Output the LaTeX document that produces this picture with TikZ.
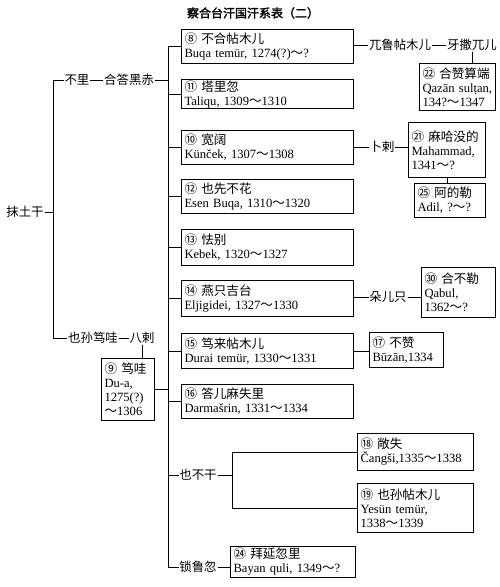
\documentclass[tikz,border=0pt]{standalone}
\usepackage{fontspec}
\setmainfont{Liberation Serif}
\newfontfamily\cjk{Noto Sans CJK SC}[AutoFakeBold=2]
\newcommand\wave{{\cjk ～}}
\usetikzlibrary{calc}

\begin{document}
\begin{tikzpicture}[
  x=1pt,y=-1pt,
  line width=0.8pt,
  every node/.style={font=\fontsize{12.6}{14}\selectfont},
  kbox/.style={draw,line width=1pt,align=left,anchor=north west,inner xsep=3pt,inner ysep=1pt},
  kname/.style={inner sep=0.5pt,font=\fontsize{12.4}{14}\selectfont\cjk},
]
\useasboundingbox (0,0) rectangle (500,587);
\node[font=\fontsize{12}{14}\selectfont\cjk\bfseries] (title) at (253,13) {察合台汗国汗系表（二）};

% left branch
\node[kname] (mtg) at (25,212) {抹土干};
\node[kname] (buli) at (77,80) {不里};
\node[kname] (hdhc) at (129,80) {合答黑赤};
\node[kname] (ysdw) at (93,338) {也孙笃哇};
\node[kname] (bala) at (142,338) {八剌};
\coordinate (ma-top) at (53,80);
\coordinate (ma-bot) at (53,338);

% boxes
\node[kbox,text width=166pt,minimum height=34pt] (b8) at (181,29) {{\cjk ⑧\ 不合帖木儿}\\Buqa temür, 1274(?)\wave?};
\node[kbox,text width=166pt,minimum height=29pt] (b11) at (181,79) {{\cjk ⑪\ 塔里忽}\\Taliqu, 1309\wave 1310};
\node[kbox,text width=166pt,minimum height=34pt] (b10) at (181,130) {{\cjk ⑩\ 宽阔}\\Künček, 1307\wave 1308};
\node[kbox,text width=166pt,minimum height=34pt] (b12) at (181,179) {{\cjk ⑫\ 也先不花}\\Esen Buqa, 1310\wave 1320};
\node[kbox,text width=166pt,minimum height=36pt] (b13) at (181,229) {{\cjk ⑬\ 怯别}\\Kebek, 1320\wave 1327};
\node[kbox,text width=166pt,minimum height=36pt] (b14) at (181,280) {{\cjk ⑭\ 燕只吉台}\\Eljigidei, 1327\wave 1330};
\node[kbox,text width=166pt,minimum height=35pt] (b15) at (181,333) {{\cjk ⑮\ 笃来帖木儿}\\Durai temür, 1330\wave 1331};
\node[kbox,text width=166pt,minimum height=34pt] (b16) at (181,384) {{\cjk ⑯\ 答儿麻失里}\\Darmašrin, 1331\wave 1334};
\node[kbox,text width=47pt,minimum height=62pt] (b9) at (101,358) {{\cjk ⑨\ 笃哇}\\Du-a,\\1275(?)\\\wave 1306};

\node[kname] (wlt) at (400,45) {兀鲁帖木儿};
\node[kname] (yasa) at (472,45) {牙撒兀儿};
\node[kbox,text width=70pt,minimum height=47pt] (b22) at (419,63) {{\cjk ㉒\ 合赞算端}\\Qazān sulṭan,\\134?\wave 1347};
\node[kname] (bula) at (382,147) {卜剌};
\node[kbox,text width=71pt,minimum height=55pt] (b21) at (408,122) {{\cjk ㉑\ 麻哈没的}\\Mahammad,\\1341\wave?};
\node[kbox,text width=65pt,minimum height=34pt] (b25) at (414,183) {{\cjk ㉕\ 阿的勒}\\Adil, ?\wave?};
\node[kname] (duo) at (388,297) {朵儿只};
\node[kbox,text width=68pt,minimum height=50pt] (b30) at (421,267) {{\cjk ㉚\ 合不勒}\\Qabul,\\1362\wave?};
\node[kbox,text width=68pt,minimum height=35pt] (b17) at (369,332) {{\cjk ⑰\ 不赞}\\Būzān,1334};

\node[kname] (yebg) at (198,475) {也不干};
\coordinate (yb) at (232,0);
\node[kbox,text width=110pt,minimum height=37pt] (b18) at (357,433) {{\cjk ⑱\ 敞失}\\Čangši,1335\wave 1338};
\node[kbox,text width=110pt,minimum height=49pt] (b19) at (357,483) {{\cjk ⑲\ 也孙帖木儿}\\Yesün temür,\\1338\wave 1339};
\node[kname] (suo) at (198,567) {锁鲁忽};
\node[kbox,text width=119pt,minimum height=31pt] (b20) at (230,546) {{\cjk ㉔\ 拜延忽里}\\Bayan quli, 1349\wave?};
\coordinate (tr-top) at (168,46);
\coordinate (tr-bot) at (168,567);

% connectors
\draw (mtg.east) -- (mtg.east -| ma-top);
\draw (buli.west) -- (ma-top) -- (ma-bot) -- (ysdw.west);
\draw (buli.east) -- (hdhc.west);
\draw (ysdw.east) -- (bala.west);
\draw (bala.south) -- (bala.south |- b9.north);
\draw (tr-top) -- (tr-bot);
\draw (hdhc.east) -- (hdhc.east -| tr-top);
\draw (b9.east) -- (b9.east -| tr-top);
\foreach \b in {b8,b11,b10,b12,b13,b14,b15,b16}
  \draw (\b.west) -- (\b.west -| tr-top);
\draw (yebg.west) -- (yebg.west -| tr-top);
\draw (suo.west) -- (suo.west -| tr-top);
\draw (b8.east |- wlt) -- (wlt.west);
\draw (wlt.east) -- (yasa.west);
\draw (yasa.south) -- (yasa.south |- b22.north);
\draw (b10.east |- bula) -- (bula.west);
\draw (bula.east) -- (bula.east -| b21.west);
\draw (b21.south) -- (b21.south |- b25.north);
\draw (b14.east |- duo) -- (duo.west);
\draw (duo.east) -- (duo.east -| b30.west);
\draw (b15.east) -- (b15.east -| b17.west);
\draw (yebg.east) -- (yebg.east -| yb);
\draw (b18.west) -- (b18.west -| yb) -- (b19.west -| yb) -- (b19.west);
\draw (suo.east) -- (suo.east -| b20.west);
\end{tikzpicture}
\end{document}
